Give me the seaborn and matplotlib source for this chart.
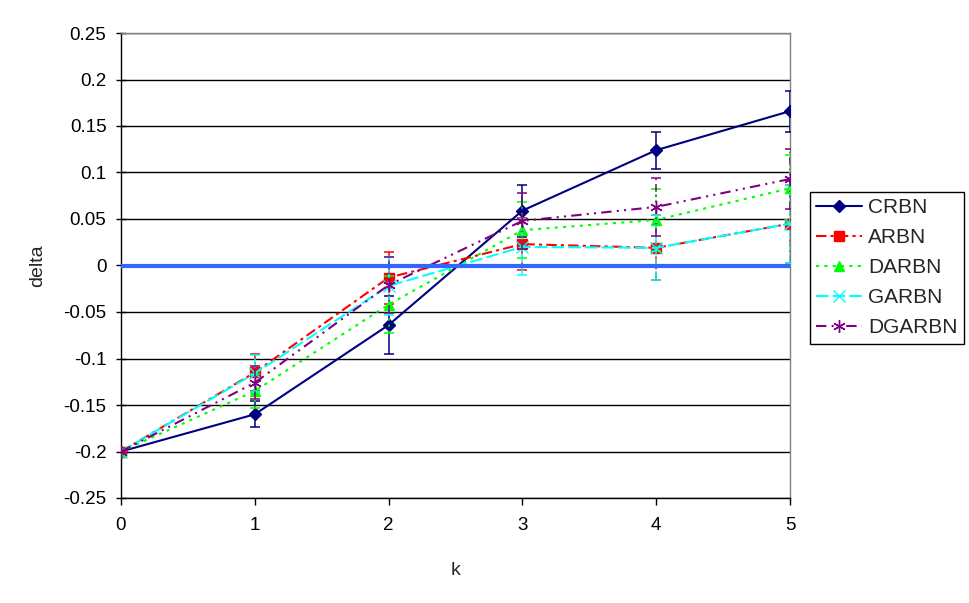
import matplotlib
matplotlib.use("Agg")
import matplotlib.pyplot as plt
import matplotlib.ticker as mticker
import numpy as np
import pandas as pd
import seaborn as sns

# data
k = [0, 1, 2, 3, 4, 5]
series = ["CRBN", "ARBN", "DARBN", "GARBN", "DGARBN"]

crbn = [-0.2, -0.160, -0.064, 0.059, 0.124, 0.166]
arbn = [-0.2, -0.115, -0.013, 0.023, 0.019, 0.045]
darbn = [-0.2, -0.135, -0.042, 0.038, 0.049, 0.083]
garbn = [-0.2, -0.116, -0.022, 0.020, 0.019, 0.045]
dgarbn = [-0.2, -0.126, -0.021, 0.048, 0.063, 0.093]

crbn_err = [0, 0.014, 0.031, 0.028, 0.020, 0.022]
arbn_err = [0, 0.020, 0.028, 0.028, 0.035, 0.042]
darbn_err = [0, 0.018, 0.031, 0.030, 0.033, 0.036]
garbn_err = [0, 0.020, 0.031, 0.030, 0.035, 0.042]
dgarbn_err = [0, 0.018, 0.030, 0.030, 0.031, 0.032]

values = dict(zip(series, [crbn, arbn, darbn, garbn, dgarbn]))
errors = dict(zip(series, [crbn_err, arbn_err, darbn_err, garbn_err, dgarbn_err]))

df = pd.DataFrame({
    "k": np.tile(k, len(series)),
    "delta": np.concatenate([values[s] for s in series]),
    "series": np.repeat(series, len(k)),
})

palette = dict(zip(series, ["#000080", "#ff0000", "#00ff00", "#00ffff", "#800080"]))
markers = dict(zip(series, ["D", "s", "^", "x", (6, 2, 0)]))
msizes = dict(zip(series, [6, 7, 7.5, 8, 9]))
dashes = dict(zip(series, [None, (5, 2, 1.5, 2), (1.5, 2.5), (6, 2), (5, 2.5, 1, 2.5, 1, 2.5)]))

sns.set_style("white")
plt.rcParams["font.family"] = ["Liberation Sans", "DejaVu Sans"]

fig = plt.figure(figsize=(9.7, 6.03), dpi=100)
ax = fig.add_axes([121 / 970, 1 - 498 / 603, 669 / 970, 465 / 603])

handles = []
for s in series:
    ls = "-" if dashes[s] is None else (0, dashes[s])
    sns.lineplot(data=df[df["series"] == s], x="k", y="delta", color=palette[s],
                 marker=markers[s], linestyle=ls, linewidth=1.5, markersize=msizes[s],
                 markeredgecolor=palette[s], markeredgewidth=1.0,
                 ax=ax, legend=False, zorder=3)
    handles.append(ax.lines[-1])
    eb = ax.errorbar(k, values[s], yerr=errors[s], fmt="none", ecolor=palette[s],
                     elinewidth=1.1, capsize=3.5, capthick=1.1, zorder=3)
    if dashes[s] is not None:
        eb.lines[2][0].set_linestyle((0, dashes[s]))

ax.axhline(0, color="#3366ff", lw=3, zorder=4)

ax.set_xlim(0, 5)
ax.set_ylim(-0.25, 0.25)
ax.set_xticks(k)
ax.yaxis.set_major_locator(mticker.MultipleLocator(0.05))
ax.yaxis.set_major_formatter(mticker.FuncFormatter(lambda v, p: f"{round(v, 2) + 0.0:g}"))
ax.yaxis.grid(True, color="black", lw=1)
ax.set_axisbelow(True)

ax.tick_params(axis="y", direction="inout", length=7, width=1, colors="black", labelsize=13.5, pad=7)
ax.tick_params(axis="x", direction="out", length=5, width=1, colors="black", labelsize=13.5, pad=9)
ax.tick_params(left=True, bottom=True)

for side in ["left", "bottom"]:
    ax.spines[side].set_color("black")
    ax.spines[side].set_linewidth(1)
for side in ["top", "right"]:
    ax.spines[side].set_color("#808080")
    ax.spines[side].set_linewidth(1)

ax.set_xlabel("k", fontsize=14, labelpad=20)
ax.set_ylabel("delta", fontsize=14, labelpad=12)

fig.legend(handles, series, loc="upper left", bbox_to_anchor=(810 / 970, 1 - 192 / 603),
           frameon=True, fancybox=False, edgecolor="black", framealpha=1,
           fontsize=15, handlelength=2.2, borderpad=0.3, labelspacing=0.53,
           handletextpad=0.3, borderaxespad=0)

fig.savefig("out.png", dpi=100)
